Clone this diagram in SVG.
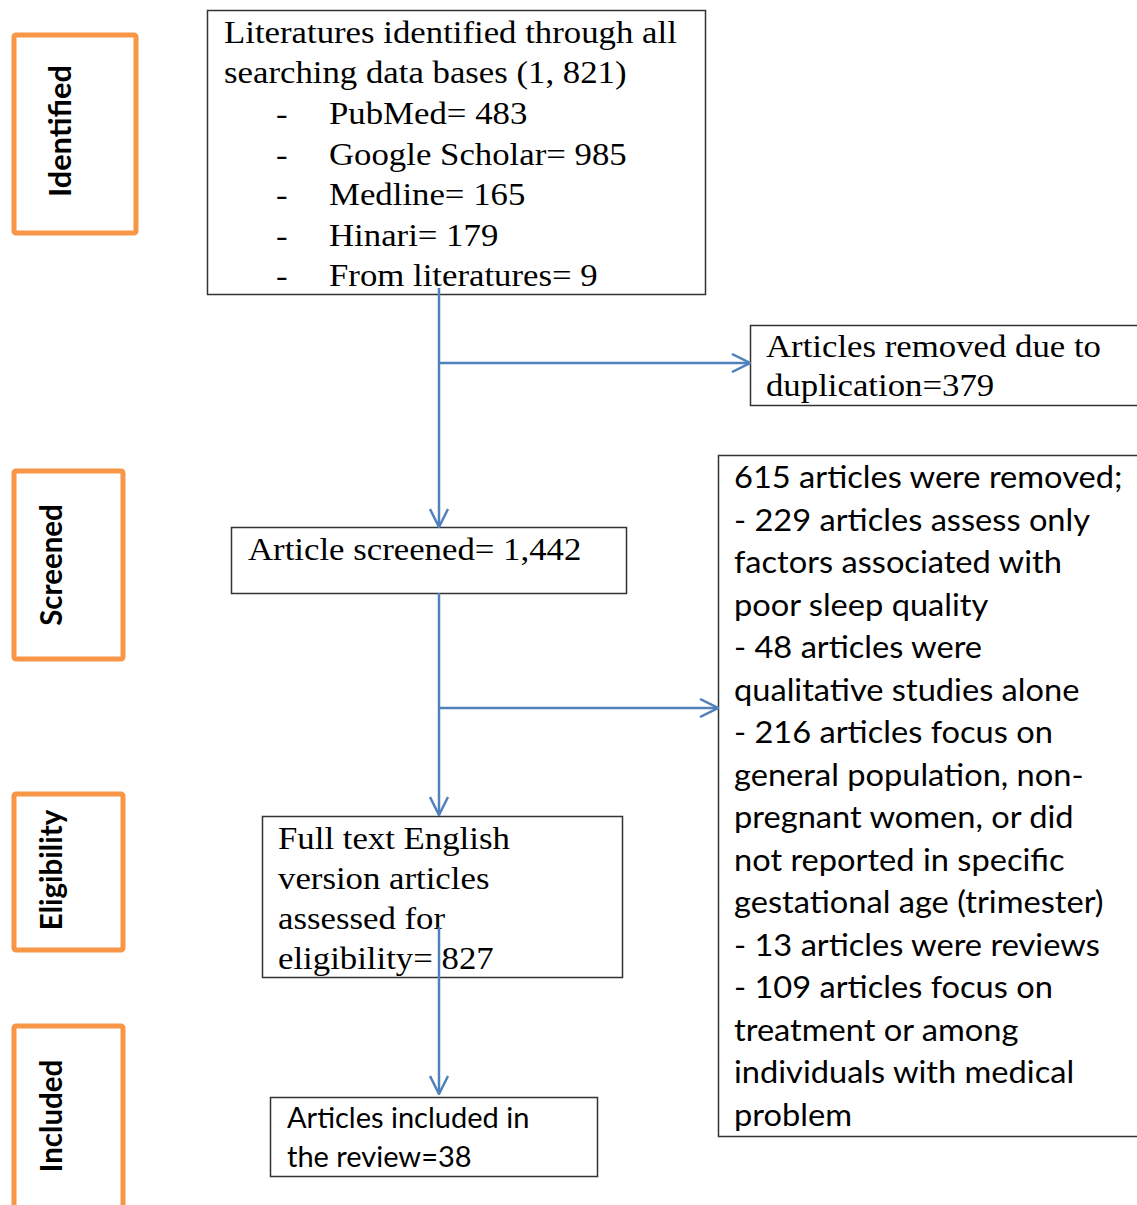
<svg xmlns="http://www.w3.org/2000/svg" width="1137" height="1205" viewBox="0 0 1137 1205">
<style>
.stage{fill:#fff;stroke:#F79646;stroke-width:5}
.stage-t{font-family:Lato,"Open Sans",sans-serif;font-weight:bold;font-size:29.5px;fill:#000;text-anchor:middle}
.box{fill:#fff;stroke:#333;stroke-width:1.5}
.serif{font-family:"Liberation Serif","Times New Roman",serif;font-size:32px;fill:#000}
.sans{font-family:Lato,"Liberation Sans",sans-serif;font-size:30px;fill:#000}
.conn{fill:none;stroke:#4F81BD;stroke-width:2.5}
</style>
<defs>
<marker id="arr" viewBox="0 0 20 20" refX="19" refY="10" markerWidth="20" markerHeight="20" markerUnits="userSpaceOnUse" orient="auto">
<path d="M1,1 L19,10 L1,19" fill="none" stroke="#4F81BD" stroke-width="2.5"/>
</marker>
</defs>
<rect width="1137" height="1205" fill="#fff"/>

<g id="stage-identified">
<rect class="stage" x="14" y="35" width="122" height="198" rx="2"/>
<text class="stage-t" transform="translate(71,131) rotate(-90)" textLength="132" lengthAdjust="spacingAndGlyphs">Identified</text>
</g>
<g id="stage-screened">
<rect class="stage" x="14" y="471" width="109" height="188" rx="2"/>
<text class="stage-t" transform="translate(62,565) rotate(-90)">Screened</text>
</g>
<g id="stage-eligibility">
<rect class="stage" x="14" y="794" width="109" height="156" rx="2"/>
<text class="stage-t" transform="translate(62,870) rotate(-90)">Eligibility</text>
</g>
<g id="stage-included">
<rect class="stage" x="14" y="1026" width="109" height="200" rx="2"/>
<text class="stage-t" transform="translate(62,1116) rotate(-90)">Included</text>
</g>

<g id="identified">
<rect class="box" x="207.5" y="10.5" width="498" height="284"/>
<text class="serif" transform="translate(224 0) scale(1.087 1) translate(-224 0)">
<tspan x="224" y="43">Literatures identified through all</tspan>
<tspan x="224" y="83">searching data bases (1, 821)</tspan>
<tspan x="271.8" y="124">-</tspan><tspan x="320.6" y="124">PubMed= 483</tspan>
<tspan x="271.8" y="165">-</tspan><tspan x="320.6" y="165">Google Scholar= 985</tspan>
<tspan x="271.8" y="205">-</tspan><tspan x="320.6" y="205">Medline= 165</tspan>
<tspan x="271.8" y="246">-</tspan><tspan x="320.6" y="246">Hinari= 179</tspan>
<tspan x="271.8" y="286">-</tspan><tspan x="320.6" y="286">From literatures= 9</tspan>
</text>
</g>

<g id="duplicates">
<rect class="box" x="750.5" y="325.5" width="400" height="80"/>
<text class="serif" transform="translate(766 0) scale(1.087 1) translate(-766 0)">
<tspan x="766" y="357">Articles removed due to</tspan>
<tspan x="766" y="396">duplication=379</tspan>
</text>
</g>

<g id="screened">
<rect class="box" x="231.5" y="527.5" width="395" height="66"/>
<text class="serif" transform="translate(248 0) scale(1.087 1) translate(-248 0)"><tspan x="248" y="560">Article screened= 1,442</tspan></text>
</g>

<g id="excluded">
<rect class="box" x="718.5" y="455.5" width="430" height="681"/>
<text class="sans" transform="translate(734 0) scale(1.087 1) translate(-734 0)">
<tspan x="734" y="488">615 articles were removed;</tspan>
<tspan x="734" y="531">- 229 articles assess only</tspan>
<tspan x="734" y="573">factors associated with</tspan>
<tspan x="734" y="616">poor sleep quality</tspan>
<tspan x="734" y="658">- 48 articles were</tspan>
<tspan x="734" y="701">qualitative studies alone</tspan>
<tspan x="734" y="743">- 216 articles focus on</tspan>
<tspan x="734" y="786">general population, non-</tspan>
<tspan x="734" y="828">pregnant women, or did</tspan>
<tspan x="734" y="871">not reported in specific</tspan>
<tspan x="734" y="913">gestational age (trimester)</tspan>
<tspan x="734" y="956">- 13 articles were reviews</tspan>
<tspan x="734" y="998">- 109 articles focus on</tspan>
<tspan x="734" y="1041">treatment or among</tspan>
<tspan x="734" y="1083">individuals with medical</tspan>
<tspan x="734" y="1126">problem</tspan>
</text>
</g>

<g id="eligibility">
<rect class="box" x="262.5" y="816.5" width="360" height="161"/>
<text class="serif" transform="translate(278 0) scale(1.087 1) translate(-278 0)">
<tspan x="278" y="849">Full text English</tspan>
<tspan x="278" y="889">version articles</tspan>
<tspan x="278" y="929">assessed for</tspan>
<tspan x="278" y="969">eligibility= 827</tspan>
</text>
</g>

<g id="included">
<rect class="box" x="270.5" y="1097.5" width="327" height="79"/>
<text class="sans" style="font-size:29px">
<tspan x="287" y="1128">Articles included in</tspan>
<tspan x="287" y="1167">the review=38</tspan>
</text>
</g>

<g id="connectors">
<line class="conn" x1="439" y1="288" x2="439" y2="527" marker-end="url(#arr)"/>
<line class="conn" x1="439" y1="363" x2="750" y2="363" marker-end="url(#arr)"/>
<line class="conn" x1="439" y1="593" x2="439" y2="815" marker-end="url(#arr)"/>
<line class="conn" x1="439" y1="708" x2="718" y2="708" marker-end="url(#arr)"/>
<line class="conn" x1="439" y1="927" x2="439" y2="1094" marker-end="url(#arr)"/>
</g>
</svg>
